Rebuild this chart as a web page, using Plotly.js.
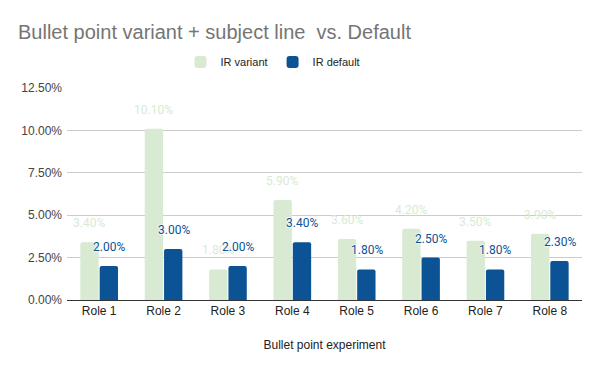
<!DOCTYPE html>
<html><head><meta charset="utf-8">
<script src="https://cdn.plot.ly/plotly-3.0.1.min.js"></script>
<style>html,body{margin:0;padding:0;background:#fff}</style>
</head><body>
<div id="chart" style="width:600px;height:371px"></div>
<script>
const categories = ["Role 1","Role 2","Role 3","Role 4","Role 5","Role 6","Role 7","Role 8"];
const irVariant = [0.034, 0.101, 0.018, 0.059, 0.036, 0.042, 0.035, 0.039];
const irDefault = [0.020, 0.030, 0.020, 0.034, 0.018, 0.025, 0.018, 0.023];
const yTickVals = [0, 0.025, 0.05, 0.075, 0.10, 0.125];
const yTickText = ["0.00%","2.50%","5.00%","7.50%","10.00%","12.50%"];

const cVar = "#d9ead3", cDef = "#0b5394";
const traces = [
  {type:"bar", name:"IR variant", x:categories, y:irVariant, marker:{color:cVar, cornerradius:2}, hoverinfo:"none"},
  {type:"bar", name:"IR default", x:categories, y:irDefault, marker:{color:cDef, cornerradius:2}, hoverinfo:"none"}
];
const fmt = v => (v*100).toFixed(2) + "%";
const annotations = [];
categories.forEach((c,i)=>{
  annotations.push({x:c, y:irVariant[i], xref:"x", yref:"y", text:fmt(irVariant[i]), showarrow:false,
    xshift:-10, yshift:19, font:{family:"Roboto", size:12, color:cVar}});
  annotations.push({x:c, y:irDefault[i], xref:"x", yref:"y", text:fmt(irDefault[i]), showarrow:false,
    xshift:10, yshift:19, font:{family:"Roboto", size:12, color:cDef, shadow:"0px 0px 2px #fff, 0px 0px 2px #fff, 0px 0px 2px #fff"}});
});
const layout = {
  width:600, height:371,
  margin:{l:67, r:18, t:88, b:71},
  paper_bgcolor:"#fff", plot_bgcolor:"#fff",
  title:{text:"Bullet point variant + subject line  vs. Default", x:0.03, xanchor:"left", y:0.915, yanchor:"middle",
    font:{family:"Liberation Sans, Arial", size:20, color:"#757575"}},
  showlegend:true,
  legend:{orientation:"h", x:0.4, xanchor:"center", y:1.123, yanchor:"middle", font:{family:"Liberation Sans, Arial", size:11, color:"#222"}, itemwidth:30, traceorder:"normal"},
  barmode:"group", bargap:0.4, bargroupgap:0.05,
  xaxis:{type:"category", tickfont:{family:"Liberation Sans, Arial", size:12, color:"#222"}, showline:true, linecolor:"#333", linewidth:1, ticks:"", showgrid:false,
    title:{text:"Bullet point experiment", font:{family:"Liberation Sans, Arial", size:12, color:"#222"}, standoff:23}},
  yaxis:{range:[0,0.125], tickvals:yTickVals, ticktext:yTickText, tickfont:{family:"Liberation Sans, Arial", size:12, color:"#444"},
    showgrid:true, gridcolor:"#cccccc", gridwidth:1, zeroline:false, ticks:"", ticklabelstandoff:4},
  annotations:annotations
};
Plotly.newPlot("chart", traces, layout, {displayModeBar:false, staticPlot:true});
</script>
</body></html>
